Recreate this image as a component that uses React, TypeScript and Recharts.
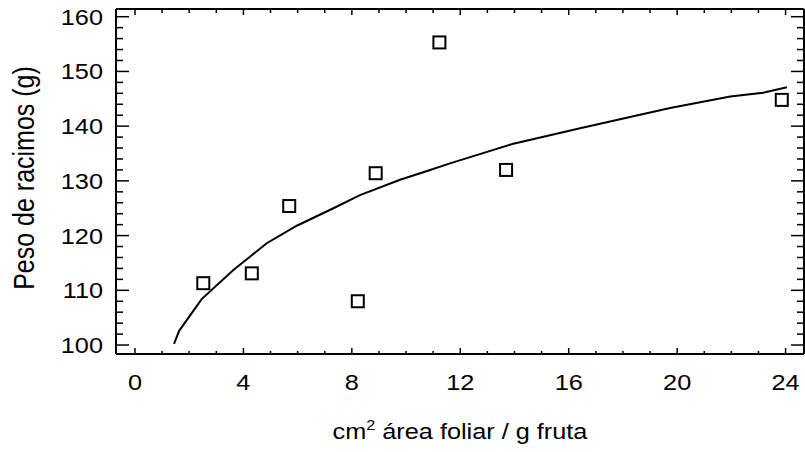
import React from 'react';
import { ComposedChart, Line, Scatter, XAxis, YAxis } from 'recharts';

// observed points (cm2 leaf area / g fruit, bunch weight g)
const observedX = [2.52, 4.31, 5.69, 8.22, 8.88, 11.23, 13.69, 23.86];
const observedY = [111.3, 113.1, 125.4, 108.0, 131.4, 155.3, 132.0, 144.8];

// fitted curve
const fitX = [1.44, 1.63, 2.46, 3.63, 4.86, 5.97, 7.32, 8.3, 9.78, 10.89, 11.62, 13.96, 16.42, 19.74, 21.96, 23.17, 24.05];
const fitY = [100.2, 102.6, 108.4, 113.7, 118.6, 121.8, 125.0, 127.4, 130.2, 132.0, 133.2, 136.8, 139.6, 143.3, 145.4, 146.1, 147.1];

const xTicks = [0, 1, 2, 3, 4, 5, 6, 7, 8, 9, 10, 11, 12, 13, 14, 15, 16, 17, 18, 19, 20, 21, 22, 23, 24];
const xMajor = [0, 4, 8, 12, 16, 20, 24];
const yTicks = [100, 102, 104, 106, 108, 110, 112, 114, 116, 118, 120, 122, 124, 126, 128, 130, 132, 134, 136, 138, 140, 142, 144, 146, 148, 150, 152, 154, 156, 158, 160];
const yMajor = [100, 110, 120, 130, 140, 150, 160];

const xDomain: [number, number] = [-0.7, 24.68];
const yDomain: [number, number] = [98.36, 161.41];

const FONT = '"Liberation Sans", Arial, Helvetica, sans-serif';
const STRETCH = 1.15;

const observed = observedX.map((x, i) => ({ x, y: observedY[i] }));
const fit = fitX.map((x, i) => ({ x, y: fitY[i] }));

const BottomTick = (p: any) => {
  const v = p.payload.value;
  const major = xMajor.includes(v);
  return (
    <g>
      <line x1={p.x} x2={p.x} y1={p.y} y2={p.y - (major ? 6 : 3)} stroke="#000" strokeWidth={1.5} />
      {major && (
        <text
          transform={`translate(${p.x},${p.y + 36}) scale(${STRETCH},1)`}
          textAnchor="middle"
          fontSize={22}
          fontFamily={FONT}
          fill="#000"
        >
          {v}
        </text>
      )}
    </g>
  );
};

const TopTick = (p: any) => {
  const v = p.payload.value;
  const major = xMajor.includes(v);
  return <line x1={p.x} x2={p.x} y1={p.y} y2={p.y + (major ? 6 : 4)} stroke="#000" strokeWidth={1.5} />;
};

const LeftTick = (p: any) => {
  const v = p.payload.value;
  const major = yMajor.includes(v);
  return (
    <g>
      <line x1={p.x} x2={p.x + (major ? 13 : 7)} y1={p.y} y2={p.y} stroke="#000" strokeWidth={1.5} />
      {major && (
        <text
          transform={`translate(${p.x - 13},${p.y + 8}) scale(${STRETCH},1)`}
          textAnchor="end"
          fontSize={22}
          fontFamily={FONT}
          fill="#000"
        >
          {v}
        </text>
      )}
    </g>
  );
};

const RightTick = (p: any) => {
  const v = p.payload.value;
  const major = yMajor.includes(v);
  return <line x1={p.x} x2={p.x - (major ? 13 : 7)} y1={p.y} y2={p.y} stroke="#000" strokeWidth={1.5} />;
};

const XLabel = (p: any) => {
  const vb = p.viewBox || { x: 116, y: 354, width: 688 };
  const cx = vb.x + vb.width / 2;
  return (
    <text
      transform={`translate(${cx},${vb.y + 85}) scale(${STRETCH},1)`}
      textAnchor="middle"
      fontSize={22}
      fontFamily={FONT}
      fill="#000"
    >
      cm
      <tspan fontSize={14} dy={-9}>2</tspan>
      <tspan dy={9}> área foliar / g fruta</tspan>
    </text>
  );
};

const YLabel = (p: any) => {
  const cx = 34;
  const cy = 178;
  return (
    <text
      transform={`translate(${cx},${cy}) scale(${STRETCH},1) rotate(-90)`}
      textAnchor="middle"
      fontSize={25}
      fontFamily={FONT}
      fill="#000"
    >
      Peso de racimos (g)
    </text>
  );
};

const Square = (p: any) => {
  if (p.cx == null || p.cy == null) return null;
  return <rect x={p.cx - 6} y={p.cy - 6} width={12} height={12} fill="none" stroke="#000" strokeWidth={2} />;
};

export default function App() {
  return (
    <div style={{ position: 'absolute', left: 0, top: 0, background: '#fff' }}>
      <ComposedChart width={805} height={452} margin={{ top: 8, right: 0, bottom: 38, left: 56 }}>
        <XAxis
          xAxisId="b"
          dataKey="x"
          type="number"
          orientation="bottom"
          domain={xDomain}
          allowDataOverflow
          ticks={xTicks}
          interval={0}
          height={60}
          tickSize={0}
          tickMargin={0}
          tickLine={false}
          axisLine={{ stroke: '#000', strokeWidth: 2 }}
          tick={BottomTick}
          label={<XLabel />}
        />
        <XAxis
          xAxisId="t"
          dataKey="x"
          type="number"
          orientation="top"
          domain={xDomain}
          allowDataOverflow
          ticks={xTicks}
          interval={0}
          height={1}
          tickSize={0}
          tickMargin={0}
          tickLine={false}
          axisLine={{ stroke: '#000', strokeWidth: 2 }}
          tick={TopTick}
        />
        <YAxis
          yAxisId="l"
          type="number"
          orientation="left"
          domain={yDomain}
          allowDataOverflow
          ticks={yTicks}
          interval={0}
          width={60}
          tickSize={0}
          tickMargin={0}
          tickLine={false}
          axisLine={{ stroke: '#000', strokeWidth: 2 }}
          tick={LeftTick}
          label={<YLabel />}
        />
        <YAxis
          yAxisId="r"
          type="number"
          orientation="right"
          domain={yDomain}
          allowDataOverflow
          ticks={yTicks}
          interval={0}
          width={1}
          tickSize={0}
          tickMargin={0}
          tickLine={false}
          axisLine={{ stroke: '#000', strokeWidth: 2 }}
          tick={RightTick}
        />
        <Line
          xAxisId="b"
          yAxisId="l"
          data={fit}
          dataKey="y"
          type="linear"
          stroke="#000"
          strokeWidth={2}
          dot={false}
          activeDot={false}
          isAnimationActive={false}
        />
        <Scatter
          xAxisId="b"
          yAxisId="l"
          data={observed}
          dataKey="y"
          shape={Square}
          isAnimationActive={false}
        />
      </ComposedChart>
    </div>
  );
}
